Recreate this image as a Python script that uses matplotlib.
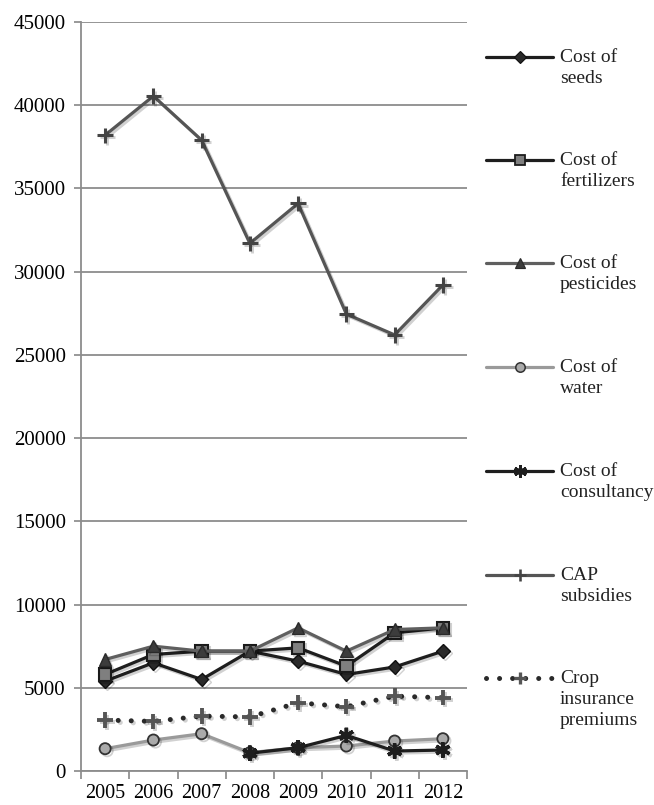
import numpy as np
import matplotlib
matplotlib.use("Agg")
import matplotlib.pyplot as plt
import matplotlib.patheffects as pe
from matplotlib.lines import Line2D

plt.rcParams['font.family'] = ['Liberation Serif', 'DejaVu Serif']

# データ
years = ['2005', '2006', '2007', '2008', '2009', '2010', '2011', '2012']
seeds = [5400, 6500, 5500, 7200, 6600, 5800, 6250, 7200]
fertilizers = [5800, 7000, 7200, 7200, 7400, 6300, 8300, 8600]
pesticides = [6700, 7500, 7200, 7200, 8600, 7200, 8500, 8600]
water = [1340, 1860, 2240, 1100, 1400, 1500, 1800, 1940]
consultancy = [np.nan, np.nan, np.nan, 1070, 1400, 2140, 1200, 1260]
cap_subsidies = [38200, 40550, 37900, 31700, 34100, 27450, 26200, 29200]
crop_insurance = [3060, 2980, 3300, 3250, 4100, 3860, 4500, 4400]

labels = ['Cost of\nseeds', 'Cost of\nfertilizers', 'Cost of\npesticides',
          'Cost of\nwater', 'Cost of\nconsultancy', 'CAP\nsubsidies',
          'Crop\ninsurance\npremiums']

W, H = 654, 805
fig = plt.figure(figsize=(W / 100, H / 100), dpi=100)
ax = fig.add_axes([81 / W, 1 - 771 / H, (467 - 81) / W, (771 - 22) / H])

shadow = [pe.SimpleLineShadow(offset=(1.5, -1.5), shadow_color='#000000', alpha=0.18), pe.Normal()]

# 各系列のスタイル
styles = [
    dict(color='#1e1e1e', lw=2.3, ls='-', marker='D', ms=7, mfc='#2a2a2a', mec='#111111', mew=1),
    dict(color='#1e1e1e', lw=2.3, ls='-', marker='s', ms=9, mfc='#7f7f7f', mec='#1a1a1a', mew=1.5),
    dict(color='#5f5f5f', lw=2.3, ls='-', marker='^', ms=9, mfc='#3c3c3c', mec='#2a2a2a', mew=1),
    dict(color='#9a9a9a', lw=2.3, ls='-', marker='o', ms=8, mfc='#aaaaaa', mec='#333333', mew=1.3),
    dict(color='#1e1e1e', lw=2.3, ls='-', marker=(6, 2, 0), ms=11, mfc='#1e1e1e', mec='#1e1e1e', mew=2.5),
    dict(color='#555555', lw=2.3, ls='-', marker='+', ms=11, mfc='#555555', mec='#444444', mew=2.2),
    dict(color='#2a2a2a', lw=3.6, ls=(0, (0.01, 2.6)), marker='+', ms=11, mfc='#555555', mec='#555555', mew=2.8),
]
series = [seeds, fertilizers, pesticides, water, consultancy, cap_subsidies, crop_insurance]

x = np.arange(len(years))
draw_order = [5, 6, 3, 4, 2, 1, 0]
for i in draw_order:
    st = styles[i]
    ax.plot(x, series[i], color=st['color'], lw=st['lw'], ls=st['ls'],
            dash_capstyle='round', solid_capstyle='round',
            marker=st['marker'], ms=st['ms'], mfc=st['mfc'], mec=st['mec'], mew=st['mew'],
            path_effects=shadow, zorder=3 + i * 0.1)

# 軸の設定
ax.set_xlim(-0.5, len(years) - 0.5)
ax.set_ylim(0, 45000)
ax.set_yticks(np.arange(0, 45001, 5000))
ax.set_xticks(x)
ax.set_xticklabels(years, fontsize=14.5)
ax.set_xticks(np.arange(-0.5, len(years), 1), minor=True)
ax.tick_params(axis='x', which='major', length=0, pad=9)
ax.tick_params(axis='x', which='minor', length=6, width=1.2, color='#888888', direction='out')
ax.tick_params(axis='y', length=5, width=1.2, color='#888888', labelsize=15, pad=6)
ax.yaxis.grid(True, color='#8c8c8c', lw=1.3)
ax.set_axisbelow(True)
for s in ['top', 'right']:
    ax.spines[s].set_visible(False)
ax.spines['left'].set_color('#8c8c8c')
ax.spines['bottom'].set_color('#8c8c8c')
ax.spines['left'].set_linewidth(1.3)
ax.spines['bottom'].set_linewidth(1.3)

# 凡例（手動配置：マーカーを1行目に合わせる）
leg_y = [56.7, 160, 263, 366.7, 470.7, 575, 678]
for i, y in enumerate(leg_y):
    st = styles[i]
    yf = 1 - y / H
    fig.add_artist(Line2D([486 / W, 553 / W], [yf, yf], transform=fig.transFigure,
                          color=st['color'], lw=st['lw'], ls=st['ls'],
                          dash_capstyle='round', solid_capstyle='round'))
    fig.add_artist(Line2D([519.5 / W], [yf], transform=fig.transFigure,
                          marker=st['marker'], ms=st['ms'] * 0.85, mfc=st['mfc'],
                          mec=st['mec'], mew=st['mew'] * 0.85, ls='none'))
    fig.text(560 / W, 1 - (y - 8) / H, labels[i], fontsize=14, va='top', ha='left',
             color='#222222', linespacing=1.3)

fig.savefig('out.png', dpi=100)
